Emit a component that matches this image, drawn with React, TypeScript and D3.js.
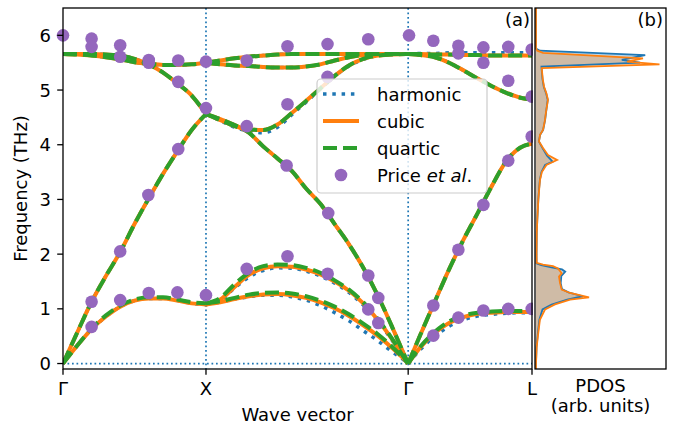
import { useEffect, useRef } from "react";
import * as d3 from "d3";

const W = 674;
const H = 426;

// high-symmetry points, path lengths of an fcc lattice (Γ-X-Γ-L)
const kTicks = [0, 1, 2.414, 3.28];
const kLabels = ["Γ", "X", "Γ", "L"];
const freqTicks = [0, 1, 2, 3, 4, 5, 6];

// k grids of the three segments
const gxK = [0, 0.1, 0.2, 0.3, 0.4, 0.5, 0.6, 0.7, 0.8, 0.9, 1.0];
const xgK = [1.0, 1.1, 1.2, 1.3, 1.4, 1.5, 1.6, 1.7, 1.8, 1.9, 2.0, 2.1, 2.2, 2.3, 2.4, 2.414];
const glK = [2.414, 2.5, 2.6, 2.7, 2.8, 2.9, 3.0, 3.1, 3.2, 3.28];

// cubic bands (THz)
const gxTA = [0, 0.33, 0.63, 0.86, 1.04, 1.15, 1.19, 1.19, 1.15, 1.1, 1.08];
const gxLA = [0, 0.57, 1.13, 1.6, 2.04, 2.55, 3.02, 3.47, 3.88, 4.27, 4.56];
const gxTO = [5.66, 5.65, 5.63, 5.6, 5.56, 5.51, 5.48, 5.46, 5.46, 5.47, 5.5];
const gxLO = [5.66, 5.66, 5.66, 5.65, 5.63, 5.57, 5.47, 5.32, 5.12, 4.9, 4.56];

const xgTA1 = [1.08, 1.12, 1.18, 1.23, 1.26, 1.27, 1.25, 1.2, 1.12, 1.01, 0.87, 0.7, 0.51, 0.29, 0.04, 0];
const xgTA2 = [1.08, 1.17, 1.4, 1.62, 1.74, 1.78, 1.77, 1.72, 1.63, 1.5, 1.33, 1.1, 0.8, 0.45, 0.05, 0];
const xgLA = [4.56, 4.47, 4.36, 4.22, 3.97, 3.75, 3.52, 3.2, 2.92, 2.55, 2.18, 1.75, 1.25, 0.68, 0.08, 0];
const xgO3 = [4.56, 4.45, 4.34, 4.28, 4.27, 4.37, 4.58, 4.8, 5.03, 5.26, 5.45, 5.57, 5.63, 5.65, 5.66, 5.66];
const xgO2 = [5.5, 5.47, 5.45, 5.44, 5.42, 5.41, 5.41, 5.43, 5.47, 5.54, 5.6, 5.64, 5.66, 5.66, 5.66, 5.66];
const xgO1 = [5.5, 5.54, 5.58, 5.61, 5.63, 5.65, 5.66, 5.66, 5.66, 5.66, 5.66, 5.66, 5.66, 5.66, 5.66, 5.66];

const glTA = [0, 0.3, 0.56, 0.74, 0.85, 0.91, 0.93, 0.94, 0.94, 0.94];
const glLA = [0, 0.53, 1.13, 1.72, 2.26, 2.75, 3.25, 3.7, 3.95, 4.02];
const glLO = [5.66, 5.64, 5.6, 5.5, 5.36, 5.21, 5.07, 4.95, 4.86, 4.83];
const glTO = [5.66, 5.66, 5.65, 5.65, 5.64, 5.64, 5.63, 5.63, 5.63, 5.63];

// harmonic bands that differ from cubic
const harmXgTA1 = [1.08, 1.12, 1.18, 1.22, 1.25, 1.25, 1.22, 1.16, 1.06, 0.93, 0.78, 0.6, 0.42, 0.22, 0.03, 0];
const harmXgTA2 = [1.08, 1.16, 1.38, 1.58, 1.7, 1.75, 1.74, 1.69, 1.6, 1.47, 1.3, 1.07, 0.78, 0.43, 0.05, 0];
const harmXgO3 = [4.56, 4.44, 4.32, 4.25, 4.22, 4.32, 4.55, 4.78, 5.02, 5.25, 5.44, 5.56, 5.63, 5.65, 5.66, 5.66];
const harmGlTA = [0, 0.26, 0.5, 0.68, 0.8, 0.87, 0.9, 0.92, 0.93, 0.93];
const harmGlTO = [5.66, 5.67, 5.67, 5.68, 5.68, 5.68, 5.68, 5.68, 5.68, 5.68];

// quartic bands that differ from cubic
const quartGxTA = [0, 0.33, 0.64, 0.88, 1.06, 1.17, 1.21, 1.21, 1.17, 1.12, 1.1];
const quartXgTA1 = [1.1, 1.14, 1.2, 1.26, 1.29, 1.3, 1.28, 1.23, 1.15, 1.04, 0.9, 0.73, 0.54, 0.31, 0.04, 0];
const quartXgTA2 = [1.1, 1.2, 1.45, 1.66, 1.78, 1.81, 1.8, 1.75, 1.66, 1.52, 1.35, 1.12, 0.82, 0.46, 0.05, 0];
const quartGlTA = [0, 0.31, 0.58, 0.77, 0.88, 0.93, 0.95, 0.96, 0.96, 0.96];

// Price et al. measurements
const priceK = [
  0, 0.2, 0.2, 0.4, 0.4, 0.6, 0.6, 0.806, 1.0, 0.806, 1.0, 0.597, 0.806,
  0.2, 0.4, 0.2, 0.4, 0.6, 0.8, 1.0,
  1.285, 1.57, 1.85, 2.135, 2.42, 1.285, 1.57, 1.85, 1.564, 1.855,
  1.285, 1.57, 1.851, 2.135, 2.205, 2.135, 2.205,
  2.59, 2.765, 2.765, 2.94, 2.94, 3.114, 3.278, 3.114, 3.278, 3.278, 3.114,
  2.94, 2.765, 2.59, 2.59, 2.765, 2.94, 3.114, 3.278,
];
const priceF = [
  6.0, 5.94, 5.79, 5.82, 5.61, 5.55, 5.5, 5.54, 5.52, 5.15, 4.67, 3.08, 3.92,
  1.13, 2.05, 0.67, 1.16, 1.29, 1.3, 1.25,
  5.54, 5.8, 5.84, 5.93, 6.0, 4.34, 4.74, 5.24, 3.62, 2.75,
  1.73, 1.96, 1.64, 1.61, 1.2, 0.99, 0.74,
  5.9, 5.81, 5.67, 5.78, 5.5, 5.79, 5.74, 5.17, 4.88, 4.15, 3.71,
  2.9, 2.08, 1.06, 0.51, 0.84, 0.97, 1.0, 1.0,
];

// phonon DOS (arb. units)
const cubicDosF = [-0.1, 0, 0.3, 0.57, 0.8, 0.99, 1.08, 1.17, 1.21, 1.29, 1.35, 1.47, 1.59, 1.65, 1.74, 1.78, 1.81, 1.84, 2.0, 2.4, 2.63, 3.0, 3.2, 3.36, 3.5, 3.63, 3.72, 3.81, 3.94, 4.06, 4.18, 4.27, 4.45, 4.6, 4.82, 4.94, 5.06, 5.2, 5.4, 5.47, 5.52, 5.58, 5.68, 5.72, 5.76, 6.5];
const cubicDosV = [0, 0, 0.005, 0.018, 0.03, 0.07, 0.146, 0.262, 0.408, 0.262, 0.198, 0.185, 0.177, 0.198, 0.169, 0.131, 0.054, 0.005, 0.004, 0.006, 0.01, 0.018, 0.025, 0.031, 0.045, 0.08, 0.162, 0.092, 0.054, 0.023, 0.031, 0.054, 0.069, 0.077, 0.092, 0.08, 0.062, 0.052, 0.044, 0.95, 0.7, 0.823, 0.054, 0.01, 0, 0];
const harmDosF = [-0.1, 0, 0.3, 0.57, 0.8, 0.99, 1.08, 1.17, 1.23, 1.3, 1.36, 1.47, 1.6, 1.68, 1.72, 1.76, 1.8, 1.83, 2.0, 2.4, 2.63, 3.0, 3.2, 3.36, 3.5, 3.63, 3.69, 3.8, 3.94, 4.06, 4.18, 4.27, 4.45, 4.6, 4.82, 4.94, 5.06, 5.2, 5.43, 5.5, 5.55, 5.64, 5.72, 5.76, 6.5];
const harmDosV = [0, 0, 0.004, 0.015, 0.026, 0.05, 0.12, 0.24, 0.36, 0.25, 0.2, 0.19, 0.195, 0.225, 0.2, 0.12, 0.04, 0.004, 0.004, 0.006, 0.01, 0.018, 0.024, 0.03, 0.042, 0.07, 0.128, 0.085, 0.05, 0.022, 0.032, 0.055, 0.07, 0.078, 0.09, 0.078, 0.06, 0.05, 0.042, 0.8, 0.66, 0.84, 0.03, 0, 0];

const FONT = "DejaVu Sans, sans-serif";
const FS = 18;

export default function App() {
  const ref = useRef<SVGSVGElement>(null);

  useEffect(() => {
    const svg = d3.select(ref.current);
    svg.selectAll("*").remove();

    const a = { left: 63, right: 532, top: 8, bottom: 369 };
    const b = { left: 535, right: 666 };

    const x = d3.scaleLinear().domain([0, 3.28]).range([a.left, a.right]);
    const y = d3.scaleLinear().domain([-0.1, 6.5]).range([a.bottom, a.top]);
    const xd = d3.scaleLinear().domain([0, 1]).range([536, 666]);

    const band = (ks: number[], fs: number[]) => ks.map((k, i) => [k, fs[i]] as [number, number]);

    const cubic = [
      band(gxK, gxTA), band(gxK, gxLA), band(gxK, gxTO), band(gxK, gxLO),
      band(xgK, xgTA1), band(xgK, xgTA2), band(xgK, xgLA), band(xgK, xgO3), band(xgK, xgO2), band(xgK, xgO1),
      band(glK, glTA), band(glK, glLA), band(glK, glLO), band(glK, glTO),
    ];
    const harmonic = [
      band(gxK, gxTA), band(gxK, gxLA), band(gxK, gxTO), band(gxK, gxLO),
      band(xgK, harmXgTA1), band(xgK, harmXgTA2), band(xgK, xgLA), band(xgK, harmXgO3), band(xgK, xgO2), band(xgK, xgO1),
      band(glK, harmGlTA), band(glK, glLA), band(glK, glLO), band(glK, harmGlTO),
    ];
    const quartic = [
      band(gxK, quartGxTA), band(gxK, gxLA), band(gxK, gxTO), band(gxK, gxLO),
      band(xgK, quartXgTA1), band(xgK, quartXgTA2), band(xgK, xgLA), band(xgK, xgO3), band(xgK, xgO2), band(xgK, xgO1),
      band(glK, quartGlTA), band(glK, glLA), band(glK, glLO), band(glK, glTO),
    ];

    const styles = {
      harmonic: { color: "#1f77b4", width: 3.5, dash: "3.5,5.8" },
      cubic: { color: "#ff7f0e", width: 4, dash: null as string | null },
      quartic: { color: "#2ca02c", width: 4, dash: "14,6" },
    };

    const defs = svg.append("defs");
    defs.append("clipPath").attr("id", "clipA")
      .append("rect")
      .attr("x", a.left).attr("y", a.top)
      .attr("width", a.right - a.left).attr("height", a.bottom - a.top);

    svg.append("rect").attr("width", W).attr("height", H).attr("fill", "white");

    const plot = svg.append("g").attr("clip-path", "url(#clipA)");

    // guide lines at the high-symmetry points and at zero
    [kTicks[1], kTicks[2]].forEach((k) => {
      plot.append("line")
        .attr("x1", x(k)).attr("x2", x(k))
        .attr("y1", a.top).attr("y2", a.bottom)
        .attr("stroke", "#1f77b4").attr("stroke-width", 1.7)
        .attr("stroke-dasharray", "1.7,2.8");
    });
    plot.append("line")
      .attr("x1", a.left).attr("x2", a.right)
      .attr("y1", y(0)).attr("y2", y(0))
      .attr("stroke", "#1f77b4").attr("stroke-width", 1.7)
      .attr("stroke-dasharray", "1.7,2.8");

    const line = d3.line<[number, number]>()
      .x((d) => x(d[0]))
      .y((d) => y(d[1]))
      .curve(d3.curveMonotoneX);

    const drawSeries = (bands: [number, number][][], st: { color: string; width: number; dash: string | null }) => {
      bands.forEach((pts) => {
        const p = plot.append("path")
          .attr("d", line(pts))
          .attr("fill", "none")
          .attr("stroke", st.color)
          .attr("stroke-width", st.width);
        if (st.dash) p.attr("stroke-dasharray", st.dash);
      });
    };
    drawSeries(harmonic, styles.harmonic);
    drawSeries(cubic, styles.cubic);
    drawSeries(quartic, styles.quartic);

    // Price et al. points
    svg.append("g")
      .selectAll("circle")
      .data(priceK.map((k, i) => [k, priceF[i]]))
      .enter()
      .append("circle")
      .attr("cx", (d) => x(d[0]))
      .attr("cy", (d) => y(d[1]))
      .attr("r", 6.3)
      .attr("fill", "#9467bd");

    // panel (a) frame
    svg.append("rect")
      .attr("x", a.left).attr("y", a.top)
      .attr("width", a.right - a.left).attr("height", a.bottom - a.top)
      .attr("fill", "none").attr("stroke", "black").attr("stroke-width", 1.3);

    // y axis
    freqTicks.forEach((t) => {
      svg.append("line")
        .attr("x1", a.left - 5.8).attr("x2", a.left)
        .attr("y1", y(t)).attr("y2", y(t))
        .attr("stroke", "black").attr("stroke-width", 1.3);
      svg.append("text")
        .attr("x", a.left - 12).attr("y", y(t) + 6.5)
        .attr("text-anchor", "end")
        .style("font-family", FONT).style("font-size", `${FS}px`)
        .text(t);
    });
    svg.append("text")
      .attr("transform", `translate(27,${(a.top + a.bottom) / 2}) rotate(-90)`)
      .attr("text-anchor", "middle")
      .style("font-family", FONT).style("font-size", `${FS}px`)
      .text("Frequency (THz)");

    // x axis
    kTicks.forEach((k, i) => {
      svg.append("line")
        .attr("x1", x(k)).attr("x2", x(k))
        .attr("y1", a.bottom).attr("y2", a.bottom + 5.8)
        .attr("stroke", "black").attr("stroke-width", 1.3);
      svg.append("text")
        .attr("x", x(k)).attr("y", a.bottom + 26)
        .attr("text-anchor", "middle")
        .style("font-family", FONT).style("font-size", `${FS}px`)
        .text(kLabels[i]);
    });
    svg.append("text")
      .attr("x", (a.left + a.right) / 2).attr("y", 421)
      .attr("text-anchor", "middle")
      .style("font-family", FONT).style("font-size", `${FS}px`)
      .text("Wave vector");

    svg.append("text")
      .attr("x", 530).attr("y", 26)
      .attr("text-anchor", "end")
      .style("font-family", FONT).style("font-size", `${FS}px`)
      .text("(a)");

    // legend
    const lg = svg.append("g");
    lg.append("rect")
      .attr("x", 317).attr("y", 79).attr("width", 170).attr("height", 114)
      .attr("rx", 4)
      .attr("fill", "white").attr("fill-opacity", 0.8)
      .attr("stroke", "#cccccc").attr("stroke-width", 1.2);
    const rows = [
      { label: "harmonic", st: styles.harmonic },
      { label: "cubic", st: styles.cubic },
      { label: "quartic", st: styles.quartic },
    ];
    rows.forEach((r, i) => {
      const ly = 94 + i * 27;
      const l = lg.append("line")
        .attr("x1", 323).attr("x2", 359)
        .attr("y1", ly).attr("y2", ly)
        .attr("stroke", r.st.color).attr("stroke-width", r.st.width);
      if (r.st.dash) l.attr("stroke-dasharray", r.st.dash);
      lg.append("text")
        .attr("x", 377).attr("y", ly + 6.5)
        .style("font-family", FONT).style("font-size", `${FS}px`)
        .text(r.label);
    });
    lg.append("circle").attr("cx", 341).attr("cy", 175).attr("r", 6.3).attr("fill", "#9467bd");
    const pt = lg.append("text")
      .attr("x", 377).attr("y", 181.5)
      .style("font-family", FONT).style("font-size", `${FS}px`);
    pt.append("tspan").text("Price ");
    pt.append("tspan").style("font-style", "italic").text("et al");
    pt.append("tspan").text(".");

    // panel (b): PDOS
    svg.append("rect")
      .attr("x", a.right + 1).attr("y", a.top)
      .attr("width", b.right - a.right - 1).attr("height", a.bottom - a.top)
      .attr("fill", "white");

    const dosArea = (fs: number[], vs: number[]) =>
      d3.area<number>()
        .y((_, i) => y(fs[i]))
        .x0(xd(0))
        .x1((v) => xd(v))(vs);
    const dosLine = (fs: number[], vs: number[]) =>
      d3.line<number>()
        .y((_, i) => y(fs[i]))
        .x((v) => xd(v))(vs);

    const pb = svg.append("g");
    pb.append("path").attr("d", dosArea(harmDosF, harmDosV)).attr("fill", "#1f77b4").attr("fill-opacity", 0.3);
    pb.append("path").attr("d", dosArea(cubicDosF, cubicDosV)).attr("fill", "#ff7f0e").attr("fill-opacity", 0.3);
    pb.append("path").attr("d", dosLine(harmDosF, harmDosV)).attr("fill", "none").attr("stroke", "#1f77b4").attr("stroke-width", 1.8);
    pb.append("path").attr("d", dosLine(cubicDosF, cubicDosV)).attr("fill", "none").attr("stroke", "#ff7f0e").attr("stroke-width", 1.8);

    svg.append("rect")
      .attr("x", b.left).attr("y", a.top)
      .attr("width", b.right - b.left).attr("height", a.bottom - a.top)
      .attr("fill", "none").attr("stroke", "black").attr("stroke-width", 1.3);

    svg.append("text")
      .attr("x", b.right - 3).attr("y", 26)
      .attr("text-anchor", "end")
      .style("font-family", FONT).style("font-size", `${FS}px`)
      .text("(b)");

    svg.append("text")
      .attr("x", (b.left + b.right) / 2).attr("y", 392)
      .attr("text-anchor", "middle")
      .style("font-family", FONT).style("font-size", `${FS}px`)
      .text("PDOS");
    svg.append("text")
      .attr("x", (b.left + b.right) / 2).attr("y", 412)
      .attr("text-anchor", "middle")
      .style("font-family", FONT).style("font-size", `${FS}px`)
      .text("(arb. units)");
  }, []);

  return (
    <svg
      ref={ref}
      width={W}
      height={H}
      style={{ position: "absolute", left: 0, top: 0, display: "block" }}
    />
  );
}
